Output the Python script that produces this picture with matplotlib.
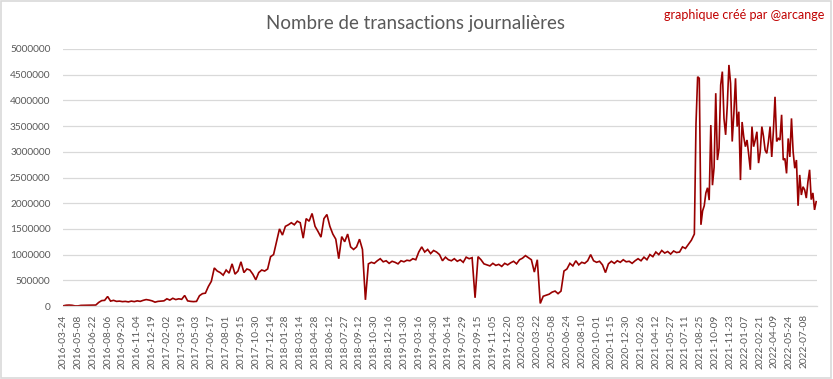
import matplotlib
matplotlib.use("Agg")
import matplotlib.pyplot as plt
import numpy as np

# ---- data -------------------------------------------------------------
n_categories = 2290          # number of daily categories on the axis
label_step = 45              # Excel shows every 45th category label

tick_labels = [
    "2016-03-24", "2016-05-08", "2016-06-22", "2016-08-06", "2016-09-20",
    "2016-11-04", "2016-12-19", "2017-02-02", "2017-03-19", "2017-05-03",
    "2017-06-17", "2017-08-01", "2017-09-15", "2017-10-30", "2017-12-14",
    "2018-01-28", "2018-03-14", "2018-04-28", "2018-06-12", "2018-07-27",
    "2018-09-12", "2018-10-30", "2018-12-16", "2019-01-30", "2019-03-16",
    "2019-04-30", "2019-06-14", "2019-07-29", "2019-09-15", "2019-11-05",
    "2019-12-20", "2020-02-03", "2020-03-22", "2020-05-08", "2020-06-24",
    "2020-08-10", "2020-10-01", "2020-11-15", "2020-12-30", "2021-02-26",
    "2021-04-12", "2021-05-27", "2021-07-11", "2021-08-25", "2021-10-09",
    "2021-11-23", "2022-01-07", "2022-02-21", "2022-04-09", "2022-05-24",
    "2022-07-08",
]

# 2016-03-24 .. 2021-07: daily transactions (thousands), one read every 9 days
early_start, early_step = 0, 9
tx_early_thousands = [
    3, 15, 18, 14, 2, 2, 12, 14, 15, 16,
    17, 18, 70, 105, 110, 185, 95, 110, 90, 95,
    85, 90, 80, 95, 85, 100, 90, 110, 125, 115,
    100, 75, 90, 95, 100, 140, 115, 150, 125, 140,
    130, 205, 100, 90, 85, 90, 200, 240, 250, 380,
    480, 740, 680, 650, 600, 700, 640, 820, 620, 680,
    860, 650, 720, 700, 620, 510, 650, 700, 680, 720,
    960, 1000, 1250, 1500, 1380, 1550, 1580, 1620, 1580, 1650,
    1620, 1320, 1700, 1650, 1800, 1550, 1450, 1340, 1700, 1780,
    1550, 1400, 1300, 920, 1350, 1250, 1400, 1150, 1100, 1150,
    1300, 1100, 120, 820, 850, 830, 880, 920, 860, 880,
    830, 870, 850, 820, 880, 860, 890, 880, 920, 900,
    1050, 1150, 1050, 1100, 1020, 1080, 1050, 1000, 880, 950,
    900, 880, 920, 870, 900, 850, 950, 920, 940, 160,
    960, 900, 820, 800, 780, 830, 790, 810, 770, 830,
    800, 840, 870, 820, 900, 930, 980, 940, 900, 660,
    900, 50, 190, 210, 230, 270, 290, 240, 290, 680,
    720, 830, 780, 880, 800, 850, 830, 880, 1000, 880,
    850, 870, 800, 650, 820, 870, 830, 880, 850, 900,
    860, 870, 830, 880, 920, 880, 950, 900, 1000, 960,
    1050, 1000, 1080, 1030, 1060, 1010, 1070, 1040, 1050, 1150,
    1120, 1200, 1280,
]

# 2021-07 .. 2022-08: more volatile, one read every 5 days (thousands)
late_start, late_step = 1917, 5
tx_late_thousands = [
    1400, 3550, 4460, 4430, 1580, 1850, 1950, 2200, 2300, 2060,
    3520, 2350, 2700, 4140, 2840, 3070, 4300, 4560, 3650, 3330,
    3900, 4690, 4330, 3200, 3750, 4430, 3490, 3780, 2450, 3580,
    3290, 3100, 3230, 2950, 2650, 3490, 3100, 3230, 3390, 2780,
    3000, 3490, 3300, 3030, 2970, 3200, 3490, 2900, 3400, 4070,
    3200, 3260, 3230, 3720, 2840, 2870, 2580, 3260, 2900, 3650,
    3000, 2680, 2840, 1950, 2550, 2160, 2320, 2260, 2100, 2420,
    2650, 2070, 2200, 1870, 2030,
]

y_ticks = list(range(0, 5000001, 500000))

# ---- plot -------------------------------------------------------------
FONT = "Lato"
GREY = "#595959"
GRID = "#D9D9D9"

fig = plt.figure(figsize=(8.33, 3.79), dpi=100)
ax = fig.add_axes([63 / 833, 1 - 306 / 379, (817 - 63) / 833, (306 - 49) / 379])

x_early = early_start + np.arange(len(tx_early_thousands)) * early_step
x_late = late_start + np.arange(len(tx_late_thousands)) * late_step
x = np.concatenate([x_early, x_late]) + 0.5
y = np.concatenate([tx_early_thousands, tx_late_thousands]) * 1000
ax.plot(x, y, color="#990000", lw=1.2, solid_joinstyle="miter")

ax.set_xlim(0, n_categories)
ax.set_ylim(0, 5000000)
ax.set_yticks(y_ticks)
ax.set_yticklabels([str(v) for v in y_ticks], fontfamily=FONT, fontsize=7.3, color=GREY)
ax.set_xticks(np.arange(len(tick_labels)) * label_step + 0.5)
ax.set_xticklabels(tick_labels, rotation=90, fontfamily=FONT, fontsize=7.3, color=GREY)
ax.tick_params(axis="both", length=0)
ax.tick_params(axis="y", pad=9)
ax.tick_params(axis="x", pad=6)

ax.grid(axis="y", color=GRID, lw=0.9)
ax.set_axisbelow(True)
for side in ("top", "right", "left"):
    ax.spines[side].set_visible(False)
ax.spines["bottom"].set_color(GRID)
ax.spines["bottom"].set_linewidth(0.9)

fig.text(416 / 833, 1 - 23 / 379, "Nombre de transactions journalières",
         ha="center", va="center", fontfamily=FONT, fontsize=13.5, color=GREY)
fig.text(824 / 833, 1 - 15 / 379, "graphique créé par @arcange",
         ha="right", va="center", fontfamily=FONT, fontsize=9, color="#C00000")

border = plt.Rectangle((0.001, 0.002), 0.997, 0.996, transform=fig.transFigure,
                       fill=False, edgecolor=GRID, lw=1.2)
fig.patches.append(border)

fig.savefig("out.png", dpi=100)
